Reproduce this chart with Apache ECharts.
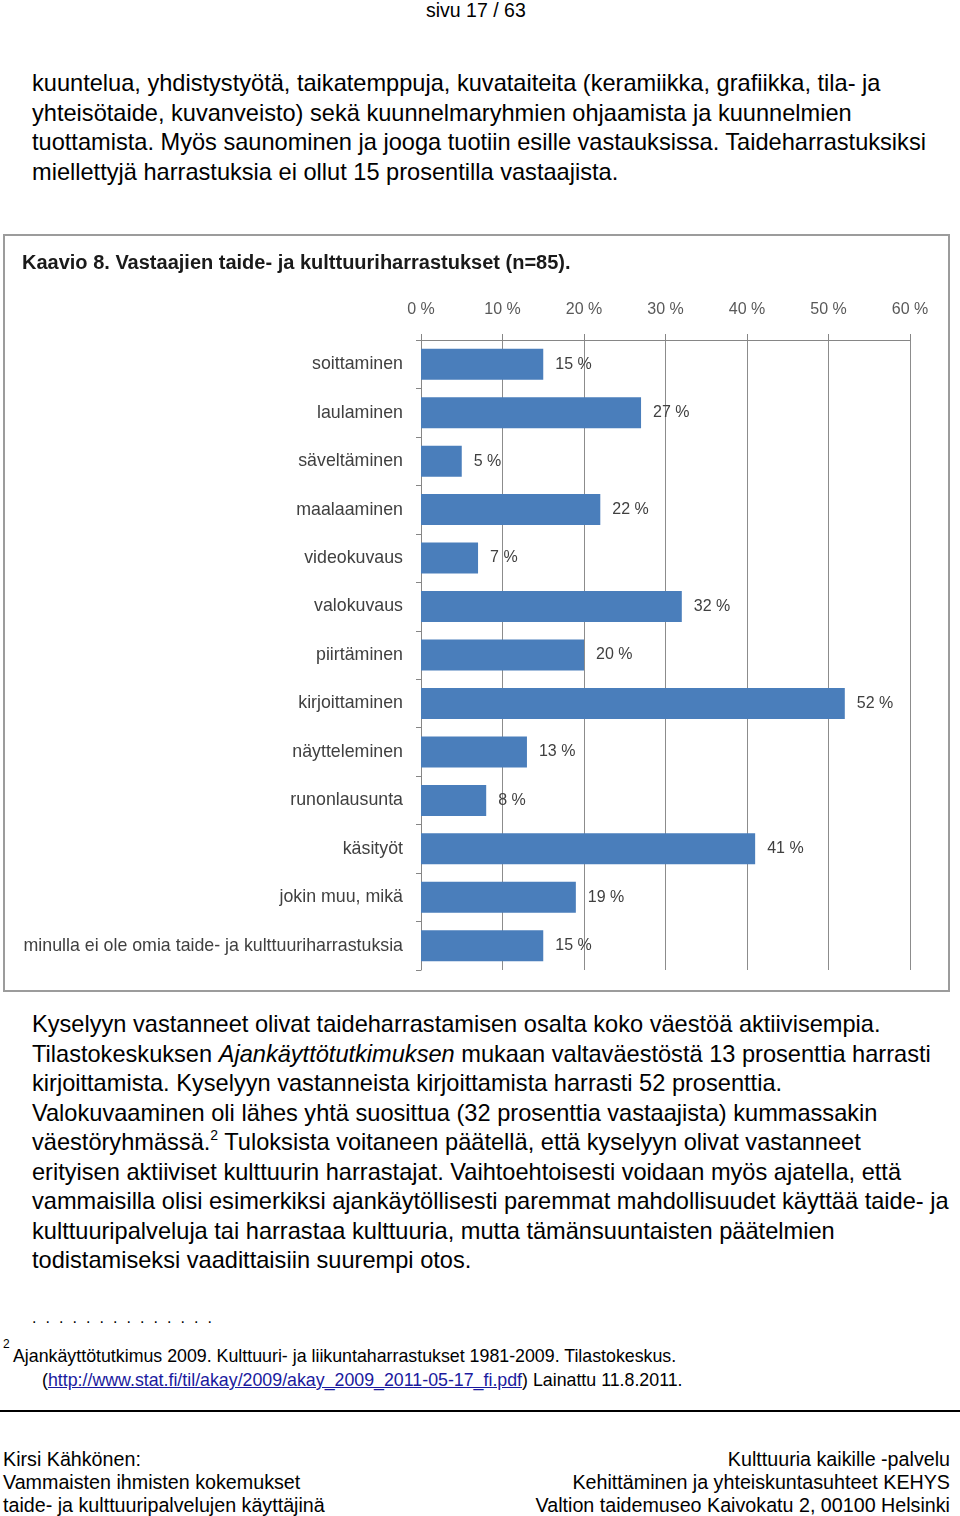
<!DOCTYPE html>
<html>
<head>
<meta charset="utf-8">
<script src="https://cdn.jsdelivr.net/npm/echarts@6/dist/echarts.min.js"></script>
<style>
  html, body { margin:0; padding:0; background:#fff; }
  body { width:960px; height:1516px; position:relative; overflow:hidden; font-family:"Liberation Sans", Arial, sans-serif; color:#000; }
  .abs { position:absolute; white-space:nowrap; }
  .p { position:absolute; left:32px; font-size:23.6px; line-height:29.5px; white-space:nowrap; }
  #chart { position:absolute; left:3px; top:234px; width:947px; height:758px; box-sizing:border-box; border:2px solid #9c9c9c; }
  sup { font-size:14px; line-height:0; vertical-align:10px; }
  a { color:#1a1a9e; text-decoration:underline; }
</style>
</head>
<body>
<div class="abs" style="left:426px; top:-1px; font-size:19.5px; line-height:22px;">sivu 17 / 63</div>

<div class="p" style="top:69px;">
kuuntelua, yhdistystyötä, taikatemppuja, kuvataiteita (keramiikka, grafiikka, tila- ja<br>
yhteisötaide, kuvanveisto) sekä kuunnelmaryhmien ohjaamista ja kuunnelmien<br>
tuottamista. Myös saunominen ja jooga tuotiin esille vastauksissa. Taideharrastuksiksi<br>
miellettyjä harrastuksia ei ollut 15 prosentilla vastaajista.
</div>

<div id="chart"></div>

<div class="p" style="top:1010px;">
Kyselyyn vastanneet olivat taideharrastamisen osalta koko väestöä aktiivisempia.<br>
Tilastokeskuksen <i>Ajankäyttötutkimuksen</i> mukaan valtaväestöstä 13 prosenttia harrasti<br>
kirjoittamista. Kyselyyn vastanneista kirjoittamista harrasti 52 prosenttia.<br>
Valokuvaaminen oli lähes yhtä suosittua (32 prosenttia vastaajista) kummassakin<br>
väestöryhmässä.<sup>2</sup> Tuloksista voitaneen päätellä, että kyselyyn olivat vastanneet<br>
erityisen aktiiviset kulttuurin harrastajat. Vaihtoehtoisesti voidaan myös ajatella, että<br>
vammaisilla olisi esimerkiksi ajankäytöllisesti paremmat mahdollisuudet käyttää taide- ja<br>
kulttuuripalveluja tai harrastaa kulttuuria, mutta tämänsuuntaisten päätelmien<br>
todistamiseksi vaadittaisiin suurempi otos.
</div>

<div class="abs" style="left:32px; top:1309px; font-size:16px; letter-spacing:2.3px;">. . . . . . . . . . . . . .</div>
<div class="abs" style="left:3px; top:1337px; font-size:12px;">2</div>
<div class="abs" style="left:13px; top:1346px; font-size:17.8px; line-height:21px;">Ajankäyttötutkimus 2009. Kulttuuri- ja liikuntaharrastukset 1981-2009. Tilastokeskus.</div>
<div class="abs" style="left:42px; top:1370px; font-size:17.8px; line-height:21px;">(<a>http://www.stat.fi/til/akay/2009/akay_2009_2011-05-17_fi.pdf</a>) Lainattu 11.8.2011.</div>

<div class="abs" style="left:0px; top:1410px; width:960px; height:2px; background:#000;"></div>

<div class="abs" style="left:3px; top:1448px; font-size:19.7px; line-height:23px;">
Kirsi Kähkönen:<br>
Vammaisten ihmisten kokemukset<br>
taide- ja kulttuuripalvelujen käyttäjinä
</div>
<div class="abs" style="right:10px; top:1448px; font-size:19.7px; line-height:23px; text-align:right;">
Kulttuuria kaikille -palvelu<br>
Kehittäminen ja yhteiskuntasuhteet KEHYS<br>
Valtion taidemuseo Kaivokatu 2, 00100 Helsinki
</div>

<script>
const chartTitle = 'Kaavio 8. Vastaajien taide- ja kulttuuriharrastukset (n=85).';
const categories = ['soittaminen','laulaminen','säveltäminen','maalaaminen','videokuvaus','valokuvaus','piirtäminen','kirjoittaminen','näytteleminen','runonlausunta','käsityöt','jokin muu, mikä','minulla ei ole omia taide- ja kulttuuriharrastuksia'];
const values = [15,27,5,22,7,32,20,52,13,8,41,19,15];
const axisMin = 0, axisMax = 60, axisStep = 10;

const FONT = '"Liberation Sans Narrow", "Liberation Sans", sans-serif';
const chart = echarts.init(document.getElementById('chart'), null, {renderer:'canvas'});
chart.setOption({
  animation:false,
  title:{ text:chartTitle, left:12, top:12, textStyle:{ fontFamily:FONT, fontSize:20, fontWeight:'bold', color:'#1a1a1a' } },
  grid:{ left:416, top:104, width:489, height:630, containLabel:false },
  xAxis:{
    type:'value', position:'top', min:axisMin, max:axisMax, interval:axisStep,
    axisLine:{ show:true, lineStyle:{ color:'#868686', width:1 } },
    axisTick:{ show:true, length:6, lineStyle:{ color:'#868686' } },
    axisLabel:{ margin:22, formatter:'{value} %', fontFamily:FONT, fontSize:16, color:'#595959' },
    splitLine:{ show:true, lineStyle:{ color:'#8c8c8c', width:1 } }
  },
  yAxis:{
    type:'category', inverse:true, data:categories,
    axisLine:{ show:true, lineStyle:{ color:'#868686', width:1 } },
    axisTick:{ show:true, length:5, alignWithLabel:false, lineStyle:{ color:'#868686' } },
    axisLabel:{ margin:18, fontFamily:FONT, fontSize:17.8, color:'#404040' }
  },
  series:[{
    type:'bar', data:values, barCategoryGap:'36%',
    itemStyle:{ color:'#4a7ebb' },
    label:{ show:true, position:'right', distance:12, formatter:'{c} %', fontFamily:FONT, fontSize:16, color:'#404040' }
  }]
});
</script>
</body>
</html>
